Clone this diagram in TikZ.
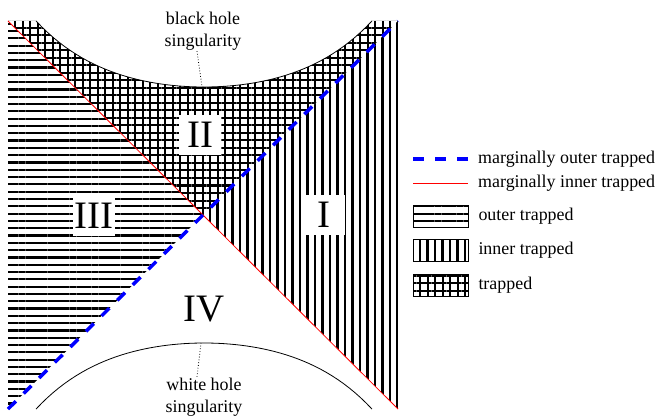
\documentclass[tikz,border=0pt]{standalone}
\usepackage{fontspec}
\setmainfont{Liberation Serif}
\usepackage{tikz}
\usetikzlibrary{patterns.meta,positioning}

\tikzset{
  legbox/.style={rectangle, draw, line width=0.6bp, minimum width=55bp, minimum height=22bp, inner sep=0pt},
  legtext/.style={anchor=west, inner sep=0pt},
  region/.style={rectangle, fill=white, minimum width=42bp, minimum height=40bp, inner sep=2bp, font=\fontsize{39}{39}\selectfont},
  outerpat/.style={pattern={Lines[angle=0,distance=7.3bp,line width=2.2bp]}},
  innerpat/.style={pattern={Lines[angle=90,distance=7.5bp,line width=2.2bp]}},
  bothpat/.style={pattern={Hatch[distance=7.5bp,line width=2bp]}},
  margout/.style={blue, line width=3.5bp, dash pattern=on 11bp off 11bp},
  margin/.style={red, line width=0.8bp},
}

\begin{document}
\begin{tikzpicture}[x=1bp, y=1bp, node distance=34.5bp, font=\fontsize{18}{21.6}\selectfont]
    \useasboundingbox (0,0) rectangle (660,418);

    % Corners
    \coordinate (tl) at (8,397);
    \coordinate (tr) at (398,397);
    \coordinate (bl) at (8,9);
    \coordinate (br) at (398,9);
    \coordinate (c) at (203,203);

    % Regions
    \fill[outerpat] (tl) -- (c) -- (bl) -- cycle;
    \fill[innerpat] (tr) -- (c) -- (br) -- cycle;
    \fill[bothpat] (tl) -- (c) -- (tr) -- (372,397)
        -- plot[domain=168:-168, samples=60] ({204+\x},{331+18.9*(cosh(0.013*\x)-1)}) -- cycle;

    % Singularities
    \draw[line width=0.8bp] plot[domain=-168:168, samples=60] ({204+\x},{331+18.9*(cosh(0.013*\x)-1)});
    \draw[line width=0.8bp] plot[domain=-168:168, samples=60] ({204+\x},{75-18.9*(cosh(0.013*\x)-1)});
    \coordinate (bhtip) at (202,331);
    \coordinate (whtip) at (201,75);

    % Horizons
    \draw[margin] (tl) -- (br);
    \draw[margout] (bl) -- (tr);

    % Region labels
    \node (two) [region] at (200,283) {II};
    \node (three) [region] at (94,202) {III};
    \node (one) [region] at (324,203) {I};
    \node (four) [region] at (204,109) {IV};

    % Annotations
    \node (bhlabel) [align=center, inner sep=1bp] at (203,387) {black hole\\singularity};
    \node (whlabel) [align=center, inner sep=1bp] at (204,21) {white hole\\singularity};
    \draw[dotted, line width=0.8bp] ([xshift=-6bp]bhlabel.south) -- (bhtip);
    \draw[dotted, line width=0.8bp] ([xshift=-7bp]whlabel.north) -- (whtip);

    % Legend
    \coordinate (outA) at (413,259);
    \coordinate (outB) at (468,259);
    \coordinate (inA) at (413,235);
    \coordinate (inB) at (468,235);
    \draw[margout] (outA) -- (outB);
    \draw[margin] (inA) -- (inB);
    \node (margouttext) [legtext, right=10bp of outB] {marginally outer trapped};
    \node (margintext) [legtext, right=10bp of inB] {marginally inner trapped};

    \node (outerbox) [legbox, outerpat] at (440.5,202) {};
    \node (innerbox) [legbox, innerpat, below of=outerbox] {};
    \node (bothbox) [legbox, bothpat, below of=innerbox] {};
    \node (outertext) [legtext, right=10bp of outerbox] {outer trapped};
    \node (innertext) [legtext, right=10bp of innerbox] {inner trapped};
    \node (bothtext) [legtext, right=10bp of bothbox] {trapped};
\end{tikzpicture}
\end{document}
